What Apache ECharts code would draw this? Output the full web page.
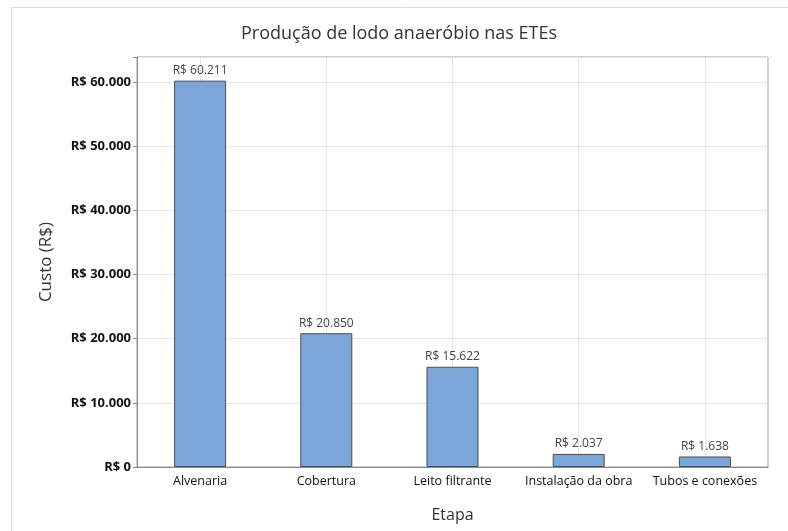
<!DOCTYPE html>
<html><head><meta charset="utf-8">
<script src="https://cdn.jsdelivr.net/npm/echarts@6/dist/echarts.min.js"></script>
<style>html,body{margin:0;padding:0;background:#fff}#c{width:788px;height:531px}</style>
</head><body><div id="c"></div>
<script>
const categories = ["Alvenaria", "Cobertura", "Leito filtrante", "Instalação da obra", "Tubos e conexões"];
const values = [60211, 20850, 15622, 2037, 1638];
const yTicks = [0, 10000, 20000, 30000, 40000, 50000, 60000];

function fmt(v) {
  return 'R$ ' + String(Math.round(v)).replace(/\B(?=(\d{3})+(?!\d))/g, '.');
}
const FONT = '"Open Sans", "Noto Sans", sans-serif';
const chart = echarts.init(document.getElementById('c'));
chart.setOption({
  animation: false,
  textStyle: { fontFamily: FONT },
  title: {
    text: 'Produção de lodo anaeróbio nas ETEs',
    left: 394, top: 20, textAlign: 'center',
    textStyle: { fontFamily: FONT, fontSize: 18, fontWeight: 'normal', color: '#333' }
  },
  graphic: [{
    type: 'rect', shape: { x: 11.5, y: 7.5, width: 800, height: 600 },
    style: { fill: 'none', stroke: '#dcdcdc', lineWidth: 1 }, silent: true, z: -1
  }],
  grid: { left: 137, right: 20, top: 57, bottom: 64, show: true, borderColor: '#a0a0a0', borderWidth: 1 },
  xAxis: {
    type: 'category', data: categories, boundaryGap: true,
    name: 'Etapa', nameLocation: 'middle', nameGap: 40,
    nameTextStyle: { fontFamily: FONT, fontSize: 16, color: '#333' },
    axisLine: { lineStyle: { color: '#8a8a8a' } },
    axisTick: { alignWithLabel: true, length: 4, lineStyle: { color: '#8a8a8a' } },
    axisLabel: { interval: 0, fontFamily: FONT, fontSize: 12.5, color: '#111', margin: 8 },
    splitLine: { show: false }
  },
  yAxis: {
    type: 'value', min: 0, max: 63900, interval: 10000,
    name: 'Custo (R$)', nameLocation: 'middle', nameGap: 82,
    nameTextStyle: { fontFamily: FONT, fontSize: 17, color: '#333' },
    axisLine: { show: true, lineStyle: { color: '#8a8a8a' } },
    axisTick: { show: true, length: 4, lineStyle: { color: '#8a8a8a' } },
    axisLabel: {
      fontFamily: FONT, fontSize: 13, fontWeight: 'bold', color: '#111', margin: 6,
      formatter: v => (yTicks.indexOf(v) >= 0 ? fmt(v) : '')
    },
    splitLine: { lineStyle: { color: '#e6e6e6' } }
  },
  series: [{
    type: 'line', data: [], z: 1, silent: true,
    markLine: {
      z: 1, silent: true, symbol: 'none', label: { show: false },
      lineStyle: { color: '#e6e6e6', type: 'solid', width: 1 },
      data: categories.map(c => ({ xAxis: c }))
    }
  }, {
    type: 'bar', data: values, barWidth: 52, z: 3,
    itemStyle: { color: '#7ba6d9', borderColor: '#4d4d4d', borderWidth: 1 },
    label: {
      show: true, position: 'top', distance: 4,
      fontFamily: FONT, fontSize: 12, color: '#444',
      formatter: p => fmt(p.value)
    }
  }]
});
</script></body></html>
